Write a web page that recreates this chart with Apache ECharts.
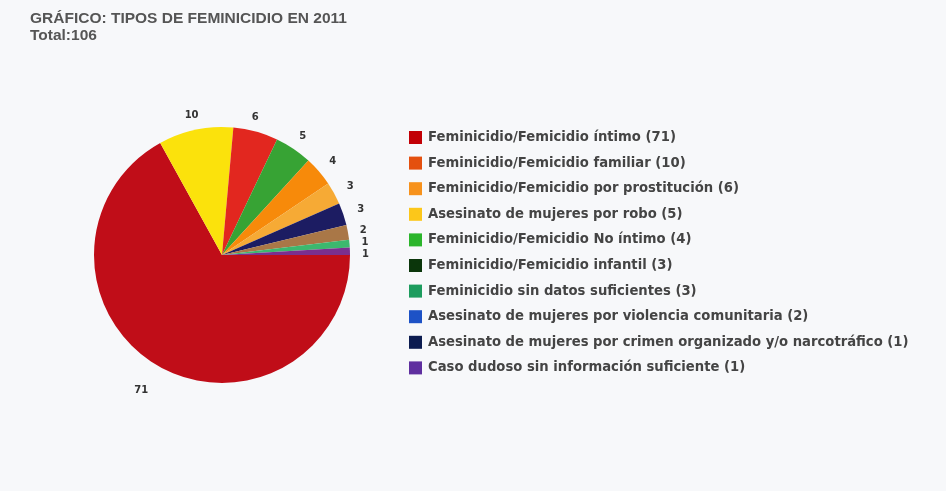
<!DOCTYPE html>
<html>
<head>
<meta charset="utf-8">
<script src="https://cdn.jsdelivr.net/npm/echarts@6/dist/echarts.min.js"></script>
<style>
html,body{margin:0;padding:0;background:#f7f8fa;}
#chart{width:946px;height:491px;}
</style>
</head>
<body>
<div id="chart"></div>
<script>
// Categories and values (legend order)
const categories = [
  "Feminicidio/Femicidio íntimo",
  "Feminicidio/Femicidio familiar",
  "Feminicidio/Femicidio por prostitución",
  "Asesinato de mujeres por robo",
  "Feminicidio/Femicidio No íntimo",
  "Feminicidio/Femicidio infantil",
  "Feminicidio sin datos suficientes",
  "Asesinato de mujeres por violencia comunitaria",
  "Asesinato de mujeres por crimen organizado y/o narcotráfico",
  "Caso dudoso sin información suficiente"
];
const values = [71, 10, 6, 5, 4, 3, 3, 2, 1, 1];
// colours as drawn in the pie (they differ from the legend swatches in the original)
const sliceColors = ["#c00d18", "#fbe20c", "#e2271f", "#37a334", "#f78a0a", "#f6aa35", "#1c1c62", "#a97747", "#3cb86e", "#7a2f8f"];
const legendColors = ["#c20006", "#e4500f", "#f7921c", "#fcc71a", "#2bb52b", "#0b360b", "#1d9c5e", "#1d52c6", "#0c1c50", "#5f2f9f"];
const titleText = "GRÁFICO: TIPOS DE FEMINICIDIO EN 2011";
const subText = "Total:106";

const data = categories.map((c, i) => {
  const d = { name: c, value: values[i], itemStyle: { color: sliceColors[i] } };
  if (String(values[i]).length > 1) d.label = { distanceToLabelLine: -6 };
  if (i === 0) d.labelLine = { length: 29, length2: 0, show: false };
  if (values[i] <= 2) d.labelLine = { length: 12, length2: 0, show: false };
  return d;
});

const chart = echarts.init(document.getElementById('chart'), null, {renderer: 'canvas'});
chart.setOption({
  backgroundColor: '#f7f8fa',
  animation: false,
  title: {
    text: titleText,
    subtext: subText,
    left: 25, top: 6,
    itemGap: 1,
    textStyle: {fontFamily: 'Liberation Sans, Arial', fontSize: 15.5, fontWeight: 'bold', color: '#555', lineHeight: 16},
    subtextStyle: {fontFamily: 'Liberation Sans, Arial', fontSize: 15.5, fontWeight: 'bold', color: '#555', lineHeight: 16}
  },
  legend: {
    orient: 'vertical',
    left: 404, top: 126,
    itemWidth: 13, itemHeight: 13,
    itemGap: 12.6,
    icon: 'rect',
    selectedMode: false,
    textStyle: {fontFamily: 'DejaVu Sans', fontSize: 13.2, fontWeight: 'bold', color: '#444', lineHeight: 13, padding: [0,0,0,1]},
    formatter: name => name + ' (' + values[categories.indexOf(name)] + ')',
    data: categories.map((c, i) => ({name: c, itemStyle: {color: legendColors[i]}}))
  },
  series: [{
    type: 'pie',
    center: [222, 255],
    radius: 128,
    startAngle: 0,
    clockwise: true,
    data: data,
    label: {
      show: true, position: 'outside',
      formatter: '{c}',
      distanceToLabelLine: -8,
      fontFamily: 'DejaVu Sans', fontSize: 10, fontWeight: 'bold', color: '#333'
    },
    labelLine: {show: false, length: 15, length2: 0},
    itemStyle: {borderWidth: 0}
  }]
});
</script>
</body>
</html>
